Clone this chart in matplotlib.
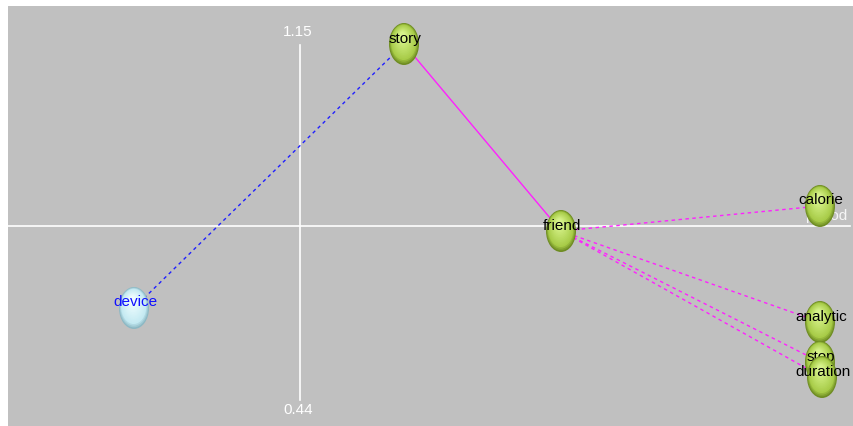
import matplotlib
matplotlib.use("Agg")
import matplotlib.pyplot as plt
from matplotlib.patches import Ellipse
import numpy as np

# ---- data ----
nodes = ["device", "story", "friend", "calorie", "analytic", "stop", "duration"]
node_x = [-0.332, 0.208, 0.522, 1.040, 1.040, 1.040, 1.044]
node_y = [0.624, 1.152, 0.778, 0.828, 0.596, 0.516, 0.486]
node_group = ["blue", "green", "green", "green", "green", "green", "green"]

edge_src = ["device", "story", "friend", "friend", "friend", "friend"]
edge_dst = ["story", "friend", "calorie", "analytic", "stop", "duration"]
edge_kind = ["blue_dash", "magenta_solid", "magenta_dash", "magenta_dash", "magenta_dash", "magenta_dash"]

y_top_label = "1.15"
y_bottom_label = "0.44"
y_top = 1.15
y_bottom = 0.44
h_axis_y = 0.788
h_axis_label = "period"

# ---- figure ----
W, H = 854, 426
fig = plt.figure(figsize=(W / 100, H / 100), dpi=100)
fig.patch.set_facecolor("white")
ax = fig.add_axes([8 / W, 0, 845 / W, 420 / H])
ax.set_facecolor("#c0c0c0")
ax.set_xlim(-0.584, 1.106)
ax.set_ylim(0.388, 1.228)
ax.set_axis_off()
ax.add_patch(plt.Rectangle((0, 0), 1, 1, transform=ax.transAxes, color="#c0c0c0", zorder=0))

# axes lines
ax.plot([0, 0], [y_bottom, y_top], color="white", lw=1.2, zorder=1)
ax.plot([-0.584, 1.10], [h_axis_y, h_axis_y], color="white", lw=1.2, zorder=1)
ax.text(-0.004, y_top + 0.012, y_top_label, color="white", fontsize=11, ha="center", va="bottom",
        family="Liberation Sans", zorder=1)
ax.text(-0.004, y_bottom - 0.006, y_bottom_label, color="white", fontsize=11, ha="center", va="top",
        family="Liberation Sans", zorder=1)
ax.text(1.094, h_axis_y + 0.006, h_axis_label, color="white", fontsize=11, ha="right", va="bottom",
        family="Liberation Sans", alpha=0.85, zorder=1)

pos = {n: (x, y) for n, x, y in zip(nodes, node_x, node_y)}
styles = {
    "blue_dash": dict(color="#2020ff", ls=(0, (2.5, 2.5)), lw=1.0),
    "magenta_solid": dict(color="#ff20ff", ls="-", lw=1.0),
    "magenta_dash": dict(color="#ff20ff", ls=(0, (2.5, 2.5)), lw=1.0),
}
for s, d, k in zip(edge_src, edge_dst, edge_kind):
    (x0, y0), (x1, y1) = pos[s], pos[d]
    ax.plot([x0, x1], [y0, y1], zorder=2, **styles[k])

palettes = {
    "green": ("#6e8c22", "#a8cc48", "#d6f28a"),
    "blue": ("#8cb8c4", "#c4eaf2", "#eefcfe"),
}
text_col = {"green": "black", "blue": "#1010ff"}

def mix(c1, c2, t):
    a = np.array(matplotlib.colors.to_rgb(c1))
    b = np.array(matplotlib.colors.to_rgb(c2))
    return tuple(a + (b - a) * t)

w, h = 0.060, 0.084
for i, (n, x, y, g) in enumerate(zip(nodes, node_x, node_y, node_group)):
    z = 3 + 2 * i
    dark, mid, light = palettes[g]
    steps = 16
    for k in range(steps):
        t = k / (steps - 1)
        scale = 1 - 0.8 * t
        cx = x - 0.003 * t
        cy = y + 0.016 * t
        if t < 0.2:
            col = mix(dark, mid, t / 0.2)
        else:
            col = mix(mid, light, (t - 0.2) / 0.8)
        ax.add_patch(Ellipse((cx, cy), w * scale, h * scale, facecolor=col,
                             edgecolor="none", zorder=z))
    ax.text(x + 0.002, y + 0.011, n, color=text_col[g], fontsize=11, ha="center", va="center",
            family="Liberation Sans", zorder=z + 1)

fig.savefig("out.png", dpi=100, facecolor="white")
